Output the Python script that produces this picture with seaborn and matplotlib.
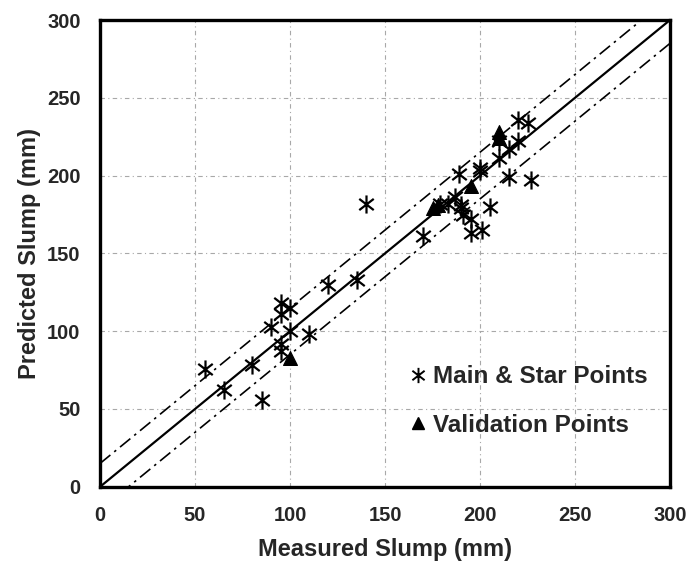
import matplotlib
matplotlib.use("Agg")
import matplotlib.pyplot as plt
import seaborn as sns
import pandas as pd
import numpy as np
from matplotlib.lines import Line2D
from matplotlib.path import Path

# Main & star points (measured, predicted)
main_measured = [55, 65, 80, 85, 90, 95, 95, 95, 95, 100, 100, 110, 120, 135, 140,
                 170, 179, 183, 187, 189, 190, 190, 191, 195, 195, 200, 200, 201,
                 205, 210, 210, 215, 215, 220, 220, 225, 227]
main_predicted = [76, 62, 78, 56, 103, 118, 111, 92, 87, 115, 100, 98, 130, 133, 182,
                  161, 182, 182, 186, 201, 181, 179, 175, 172, 163, 203, 205, 165,
                  180, 211, 222, 217, 199, 236, 222, 234, 197]

# Validation points
val_measured = [100, 175, 178, 195, 210, 210]
val_predicted = [83, 179, 181, 193, 228, 224]

ticks = [0, 50, 100, 150, 200, 250, 300]
band = 15

# asterisk marker: X with a vertical stroke
c, s_ = 0.8, 0.62
star = Path([(0, -1), (0, 1), (-c, -s_), (c, s_), (-c, s_), (c, -s_)],
            [Path.MOVETO, Path.LINETO, Path.MOVETO, Path.LINETO, Path.MOVETO, Path.LINETO])

sns.set_theme(style="white")
plt.rcParams['font.family'] = ['Liberation Sans', 'DejaVu Sans']
plt.rcParams['font.weight'] = 'bold'

fig = plt.figure(figsize=(6.9, 5.72), dpi=100)
ax = fig.add_axes([0.145, 0.149, 0.826, 0.816])

df_main = pd.DataFrame({"Measured": main_measured, "Predicted": main_predicted})
df_val = pd.DataFrame({"Measured": val_measured, "Predicted": val_predicted})

ref = np.array([0, 300])
ax.plot(ref, ref, color="black", lw=1.6, zorder=2)
ax.plot(ref, ref + band, color="black", lw=1.2, ls=(0, (8, 3, 1.5, 3)), zorder=2)
ax.plot(ref, ref - band, color="black", lw=1.2, ls=(0, (8, 3, 1.5, 3)), zorder=2)

sns.scatterplot(data=df_main, x="Measured", y="Predicted", ax=ax,
                marker=star, s=170, color="black", linewidth=1.6,
                edgecolor="black", zorder=3, legend=False)
sns.scatterplot(data=df_val, x="Measured", y="Predicted", ax=ax,
                marker="^", s=100, color="black", edgecolor="black",
                zorder=4, legend=False)

ax.set_xlim(0, 300)
ax.set_ylim(0, 300)
ax.set_xticks(ticks)
ax.set_yticks(ticks)
ax.grid(True, color="#a8a8a8", lw=0.8, ls=(0, (4, 3, 1, 3)))
ax.set_axisbelow(True)
for sp in ax.spines.values():
    sp.set_color("black")
    sp.set_linewidth(2.4)
ax.tick_params(axis="both", direction="out", length=5, width=1.5, color="black",
               labelsize=14.5, pad=9)
for lab in ax.get_xticklabels() + ax.get_yticklabels():
    lab.set_fontweight("bold")
ax.set_xlabel("Measured Slump (mm)", fontsize=17, fontweight="bold", labelpad=9)
ax.set_ylabel("Predicted Slump (mm)", fontsize=17, fontweight="bold", labelpad=4)

handles = [
    Line2D([], [], marker=star, color="black", ls="none", markersize=11, markeredgewidth=1.4),
    Line2D([], [], marker="^", color="black", ls="none", markersize=9),
]
leg = ax.legend(handles, ["Main & Star Points", "Validation Points"], loc="lower right",
                bbox_to_anchor=(1.0, 0.06), frameon=False, prop={"size": 17.5, "weight": "bold"},
                labelspacing=1.05, handletextpad=0.15, handlelength=1.0)

fig.savefig("out.png", dpi=100)
